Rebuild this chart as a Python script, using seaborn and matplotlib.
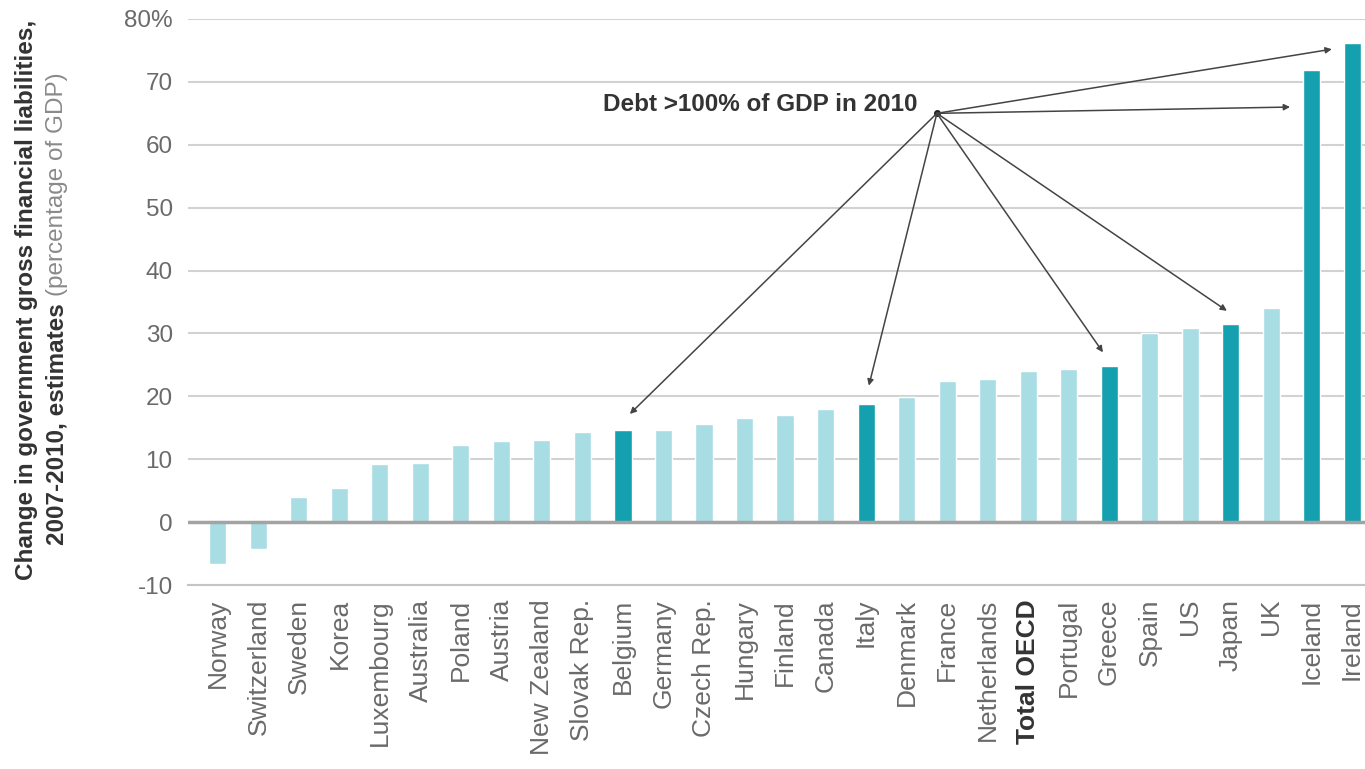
import matplotlib
matplotlib.use("Agg")
import matplotlib.pyplot as plt
import seaborn as sns
import pandas as pd

# ---- data ----
countries = ["Norway", "Switzerland", "Sweden", "Korea", "Luxembourg", "Australia",
             "Poland", "Austria", "New Zealand", "Slovak Rep.", "Belgium", "Germany",
             "Czech Rep.", "Hungary", "Finland", "Canada", "Italy", "Denmark", "France",
             "Netherlands", "Total OECD", "Portugal", "Greece", "Spain", "US", "Japan",
             "UK", "Iceland", "Ireland"]
values = [-6.6, -4.3, 4.0, 5.4, 9.2, 9.4, 12.2, 12.9, 13.0, 14.3, 14.6, 14.7,
          15.6, 16.5, 17.0, 18.0, 18.8, 19.9, 22.4, 22.7, 24.1, 24.3, 24.8, 30.0,
          30.8, 31.5, 34.1, 71.9, 76.2]
high_debt = ["Belgium", "Italy", "Greece", "Japan", "Iceland", "Ireland"]
ytick_values = [-10, 0, 10, 20, 30, 40, 50, 60, 70, 80]
ytick_labels = ["-10", "0", "10", "20", "30", "40", "50", "60", "70", "80%"]

annotation_text = "Debt >100% of GDP in 2010"
# arrow end points (category position offset, value offset) for each high-debt country
arrow_offsets = {"Belgium": (0.17, 2.6), "Italy": (0.07, 2.9), "Greece": (-0.15, 2.2),
                 "Japan": (-0.09, 2.1), "Iceland": (-0.53, -5.9), "Ireland": (-0.5, -1.0)}
annotation_origin = (17.75, 65.0)
annotation_text_pos = (17.28, 66.4)

light = "#a9dde4"
dark = "#14a0ae"

# ---- plot ----
sns.set_theme(style="white")
plt.rcParams['font.family'] = ['Liberation Sans', 'DejaVu Sans']

df = pd.DataFrame({"country": countries, "value": values})
df["group"] = ["high" if c in high_debt else "other" for c in countries]

fig = plt.figure(figsize=(13.65, 7.69), dpi=100)
ax = fig.add_axes([188 / 1365, 1 - 585 / 769, 1 - 188 / 1365, (585 - 19) / 769])

sns.barplot(data=df, x="country", y="value", hue="group",
            palette={"high": dark, "other": light}, dodge=False, width=0.42,
            legend=False, ax=ax, zorder=3, saturation=1)

ax.set_ylim(-10, 80)
ax.set_xlim(-0.74, 28.32)
ax.set_yticks(ytick_values)
ax.set_yticklabels(ytick_labels)
ax.set_xlabel("")
ax.set_ylabel("")

ax.yaxis.grid(True, color="#d2d2d2", linewidth=1.5, zorder=0)
ax.xaxis.grid(False)
ax.axhline(0, color="#a3a3a3", linewidth=2.5, zorder=4)

for s in ["top", "right", "left"]:
    ax.spines[s].set_visible(False)
ax.spines["bottom"].set_color("#c4c4c4")
ax.spines["bottom"].set_linewidth(1.5)

ax.tick_params(axis="y", length=0, pad=11, labelsize=17.5, labelcolor="#6a6a6a")
ax.tick_params(axis="x", direction="inout", length=14, width=1, color="#c8c8c8",
               pad=3, labelsize=19, labelcolor="#6a6a6a", labelrotation=90)
for lab in ax.get_xticklabels():
    if lab.get_text() == "Total OECD":
        lab.set_fontweight("bold")
        lab.set_color("#333333")

# annotation
ax.text(annotation_text_pos[0], annotation_text_pos[1], annotation_text,
        ha="right", va="center", fontsize=17.5, fontweight="bold", color="#333333",
        zorder=6)
ax.plot([annotation_origin[0]], [annotation_origin[1]], marker="o", ms=4,
        color="#222222", zorder=6)
for c in high_debt:
    i = countries.index(c)
    dx, dy = arrow_offsets[c]
    ax.annotate("", xy=(i + dx, values[i] + dy), xytext=annotation_origin,
                arrowprops=dict(arrowstyle="-|>", color="#444444", lw=1.1,
                                mutation_scale=9, shrinkA=0, shrinkB=0),
                zorder=6)

# y-axis title (two lines, mixed weights)
fig.text(27 / 1365, 1 - 300 / 769, "Change in government gross financial liabilities,",
         rotation=90, ha="center", va="center", fontsize=17.5, fontweight="bold",
         color="#333333")
t2 = fig.text(57 / 1365, 1 - 545 / 769, "2007-2010, estimates ",
              rotation=90, ha="center", va="bottom", fontsize=17.5, fontweight="bold",
              color="#333333")
ax.annotate("(percentage of GDP)", xy=(0.5, 1.0), xycoords=t2, rotation=90,
            ha="center", va="bottom", fontsize=17.5, color="#8a8a8a",
            annotation_clip=False)

fig.savefig("out.png", dpi=100)
